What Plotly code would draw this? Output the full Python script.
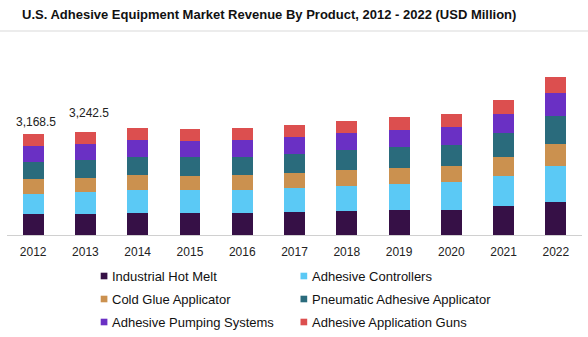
import plotly.graph_objects as go

# Revenue by product segment, USD million
years = ["2012", "2013", "2014", "2015", "2016", "2017", "2018", "2019", "2020", "2021", "2022"]
hot_melt = [659, 659, 691, 691, 691, 722, 754, 785, 785, 911, 1036]
controllers = [627, 690, 722, 722, 722, 754, 785, 817, 880, 942, 1131]
cold_glue = [471, 439, 471, 440, 471, 471, 503, 503, 503, 597, 691]
pneumatic = [533, 575, 555, 586, 555, 597, 628, 649, 649, 743, 879]
pumping = [502, 491, 544, 513, 544, 534, 534, 544, 576, 607, 722]
guns = [376.5, 388.5, 377, 377, 377, 377, 377, 408, 408, 440, 503]

labelled_years = ["2012", "2013"]
labelled_totals = ["3,168.5", "3,242.5"]
label_xshift = [2.5, 4]
label_yshift = [3.5, 9.5]

series = [
    ("Industrial Hot Melt", hot_melt, "#361046"),
    ("Adhesive Controllers", controllers, "#5bc9f5"),
    ("Cold Glue Applicator", cold_glue, "#cb914f"),
    ("Pneumatic Adhesive Applicator", pneumatic, "#2a6b7c"),
    ("Adhesive Pumping Systems", pumping, "#6a30c4"),
    ("Adhesive Application Guns", guns, "#dc4f4f"),
]

FONT = "Liberation Sans, Arial, sans-serif"
W, H = 588, 337
ML, MR, MT, MB = 7, 6, 40, 102

fig = go.Figure()
for name, vals, color in series:
    fig.add_trace(go.Bar(x=years, y=vals, name=name, marker=dict(color=color, line=dict(width=0)),
                         showlegend=False))

totals = [sum(s[1][i] for s in series) for i in range(len(years))]

# Total labels above the first two bars (x given as category index)
for yr, txt, xs, ys in zip(labelled_years, labelled_totals, label_xshift, label_yshift):
    i = years.index(yr)
    fig.add_annotation(x=i, y=totals[i], text=txt, showarrow=False, yanchor="bottom",
                       xshift=xs, yshift=ys, font=dict(family=FONT, size=12, color="#222222"))

# Manual two-column legend below the axis
plot_w = W - ML - MR
plot_h = H - MT - MB
def px_to_paper(px, py):
    return (px - ML) / plot_w, (H - MB - py) / plot_h

col_x = [100.7, 300.5]
row_y = [276, 299, 322]
for k, (name, vals, color) in enumerate(series):
    r, c = divmod(k, 2)
    x0, y0 = px_to_paper(col_x[c], row_y[r] - 3.3)
    x1, y1 = px_to_paper(col_x[c] + 6.7, row_y[r] + 3.3)
    fig.add_shape(type="rect", xref="paper", yref="paper", x0=x0, x1=x1, y0=y1, y1=y0,
                  fillcolor=color, line=dict(width=0))
    tx, ty = px_to_paper(col_x[c] + 9.5, row_y[r])
    fig.add_annotation(xref="paper", yref="paper", x=tx, y=ty, text=name, showarrow=False,
                       xanchor="left", yanchor="middle",
                       font=dict(family=FONT, size=13, color="#111111"))

# Title and rule underneath it
fig.add_annotation(xref="paper", yref="paper", x=(269 - ML) / plot_w, y=(H - MB - 14) / plot_h,
                   text="<b>U.S. Adhesive Equipment Market Revenue By Product, 2012 - 2022 (USD Million)</b>",
                   showarrow=False, xanchor="center", yanchor="middle",
                   font=dict(family=FONT, size=13, color="#111111"))
fig.add_shape(type="line", xref="paper", yref="paper", x0=-ML / plot_w, x1=(W - ML) / plot_w,
              y0=(H - MB - 31) / plot_h, y1=(H - MB - 31) / plot_h,
              line=dict(color="#d9d9d9", width=1))

fig.update_layout(
    width=W, height=H,
    margin=dict(l=ML, r=MR, t=MT, b=MB, autoexpand=False),
    barmode="stack", bargap=0.6,
    paper_bgcolor="white", plot_bgcolor="white",
    xaxis=dict(type="category", range=[-0.5, len(years) - 0.5], automargin=False,
               showline=True, linecolor="#d0d0d0", linewidth=1, ticks="", ticklabelstandoff=6,
               showgrid=False, tickfont=dict(family=FONT, size=12, color="#222222")),
    yaxis=dict(range=[0, 195 * 31.4], visible=False, showgrid=False, automargin=False),
)

fig.write_html("out.html")
